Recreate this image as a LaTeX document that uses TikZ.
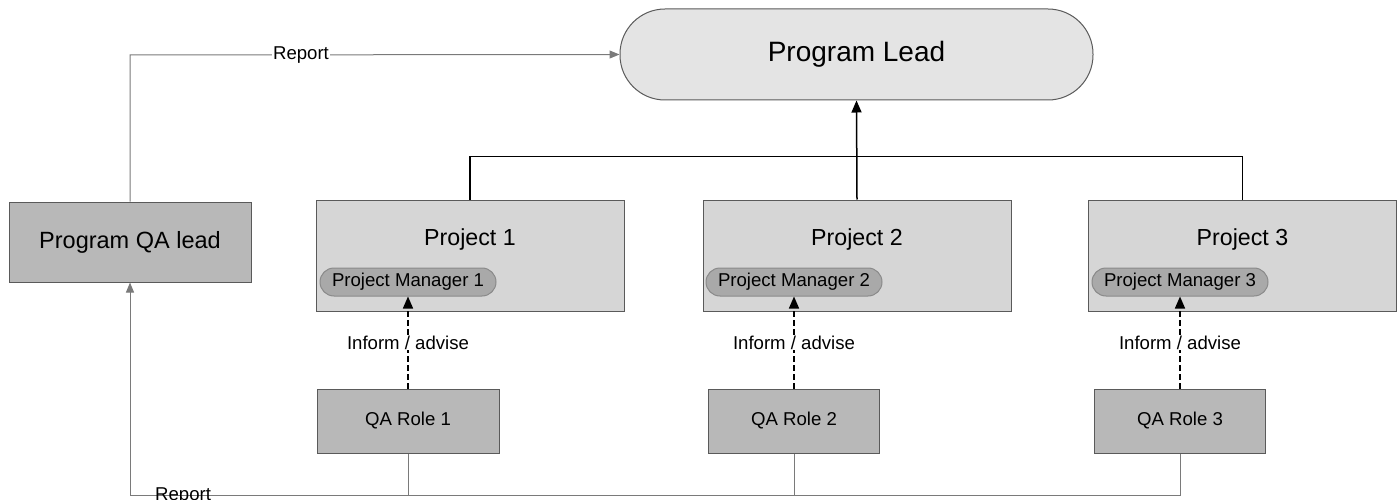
\documentclass[tikz,border=0pt]{standalone}
\usepackage{fontspec}
\setmainfont{Liberation Sans}
\usetikzlibrary{arrows.meta}
\definecolor{leadfill}{HTML}{E4E4E4}
\definecolor{projfill}{HTML}{D6D6D6}
\definecolor{darkfill}{HTML}{B8B8B8}
\definecolor{pmfill}{HTML}{A9A9A9}
\definecolor{pmborder}{HTML}{8A8A8A}
\definecolor{boxborder}{HTML}{5A5A5A}
\definecolor{reportgray}{HTML}{7A7A7A}
\tikzset{
  leadbox/.style={draw=boxborder, line width=1pt, fill=leadfill, rounded corners=45pt,
    minimum width=473pt, minimum height=91pt, inner sep=0pt,
    font=\fontsize{28}{31}\selectfont},
  projbox/.style={draw=boxborder, line width=1pt, fill=projfill,
    minimum width=308pt, minimum height=111pt, inner sep=0pt},
  darkbox/.style={draw=boxborder, line width=1pt, fill=darkfill, inner sep=0pt},
  pmbox/.style={draw=pmborder, line width=1pt, fill=pmfill, rounded corners=14pt,
    minimum width=176pt, minimum height=28pt, inner sep=0pt,
    font=\fontsize{18.6}{20}\selectfont},
  projtext/.style={inner sep=0pt, font=\fontsize{23.2}{26}\selectfont},
  smalltext/.style={font=\fontsize{18.6}{20}\selectfont},
  treeline/.style={black, line width=1.5pt},
  advise/.style={black, line width=1.5pt, dashed, dash pattern=on 6pt off 3pt,
    -{Triangle[width=10pt,length=12pt]}},
  reportline/.style={reportgray, line width=1pt},
  reportarrow/.style={reportline, -{Triangle[width=8pt,length=10pt]}},
}
\begin{document}
\begin{tikzpicture}[x=1pt,y=-1pt]
\useasboundingbox (0,0) rectangle (1398,500);
\clip (0,0) rectangle (1398,500);

% Program lead
\node[leadbox] (lead) at (856.5,54.5) {Program Lead};

% Program QA lead
\node[darkbox, minimum width=242pt, minimum height=80pt, font=\fontsize{23.5}{26}\selectfont]
  (qalead) at (130,242) {Program QA lead};

% Projects
\node[projbox] (p1) at (470,255.5) {};
\node[projbox] (p2) at (857,255.5) {};
\node[projbox] (p3) at (1242.5,255.5) {};
\node[projtext] (t1) at (470,240) {Project 1};
\node[projtext] (t2) at (857,240) {Project 2};
\node[projtext] (t3) at (1242.5,240) {Project 3};

% Project managers
\node[pmbox] (pm1) at (408,282) {Project Manager 1};
\node[pmbox] (pm2) at (794,282) {Project Manager 2};
\node[pmbox] (pm3) at (1180,282) {Project Manager 3};

% QA roles
\node[darkbox, minimum width=182pt, minimum height=64pt, smalltext] (qa1) at (408,421) {QA Role 1};
\node[darkbox, minimum width=171pt, minimum height=64pt, smalltext] (qa2) at (794,421) {QA Role 2};
\node[darkbox, minimum width=171pt, minimum height=64pt, smalltext] (qa3) at (1180,421) {QA Role 3};

% Tree to program lead
\draw[treeline] (p1.north) -- ++(0,-43) -| (p3.north);
\draw[treeline, -{Triangle[width=10pt,length=12pt]}] (p2.north) -- (lead.south);

% Inform / advise
\foreach \i in {1,2,3}{
  \draw[advise] (qa\i.north) -- node[fill=white, inner sep=1pt, smalltext] {Inform / advise} (pm\i.south);
}

% Report to program lead
\coordinate (tl) at (130,55);
\draw[reportarrow] (qalead.north) -- (tl) -- (lead.west);
\node[fill=white, inner sep=1pt, smalltext] (rep1) at (301,55) {Report};

% Report from QA roles
\coordinate (bl) at (130,495);
\draw[reportarrow] (qa3.south) |- (bl) -- (qalead.south);
\draw[reportline] (qa1.south) -- (qa1.south |- bl);
\draw[reportline] (qa2.south) -- (qa2.south |- bl);
\node[anchor=base west, inner sep=0pt, smalltext] (rep2) at (155,500) {Report};
\end{tikzpicture}
\end{document}
